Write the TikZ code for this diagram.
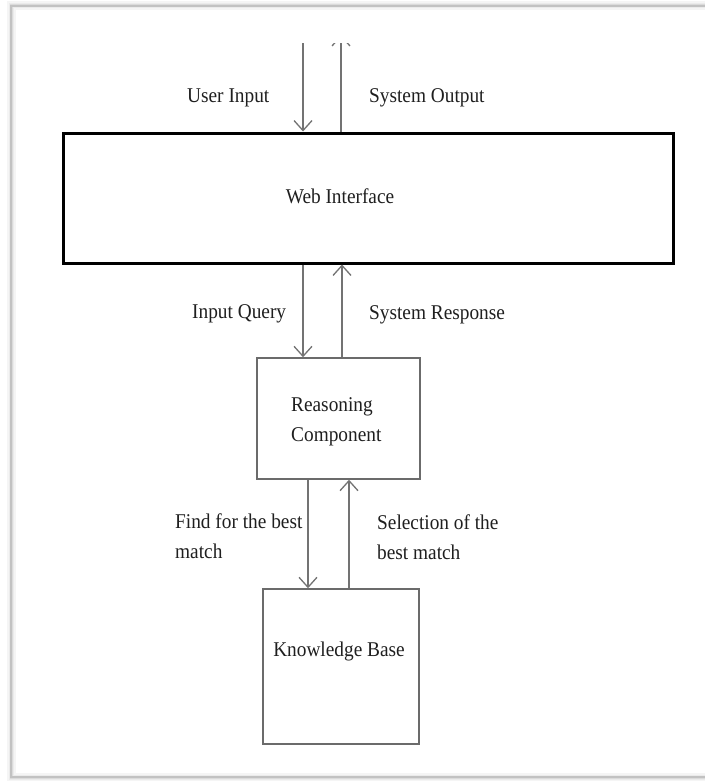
\documentclass[tikz,border=0pt]{standalone}
\usepackage{fontspec}
\usepackage{graphicx}
\setmainfont{Liberation Serif}
\usetikzlibrary{arrows.meta}

% narrow, slightly tall lettering
\newcommand{\narrow}[1]{\scalebox{0.92}[1]{#1}}

\begin{document}
\begin{tikzpicture}[x=1pt,y=-1pt,
  lbl/.style={font=\fontsize{21}{29.5}\selectfont, inner sep=0pt, text=black!88},
  thinbox/.style={draw=black!58, line width=1.5pt, inner sep=0pt, rectangle},
  thickbox/.style={draw=black, line width=3pt, inner sep=0pt, rectangle},
  flow/.style={draw=black!55, line width=1.3pt,
    -{Straight Barb[length=10pt,width=18pt,line width=1.3pt]}}]

  % page and soft frame
  \useasboundingbox (0,0) rectangle (704,781);
  \fill[white] (0,0) rectangle (704,781);
  \draw[black!4, line width=9pt] (11,6) rectangle (730,777);
  \draw[black!8, line width=5pt] (11,6) rectangle (730,777);
  \draw[black!14, line width=3pt] (11,6) rectangle (730,777);
  \draw[black!24, line width=1.4pt] (11,6) rectangle (730,777);

  % boxes
  \node[thickbox, minimum width=610pt, minimum height=130pt] (web) at (368,198) {};
  \node[thinbox, minimum width=163pt, minimum height=121pt] (rc) at (338.5,418.5) {};
  \node[thinbox, minimum width=156pt, minimum height=155pt] (kb) at (341,666.5) {};

  % box texts
  \node[lbl] (webt) at (340,196) {\narrow{Web Interface}};
  \node[lbl, align=left, anchor=west] (rct) at (291,422) {\narrow{Reasoning}\\\narrow{Component}};
  \node[lbl] (kbt) at (339,651) {\narrow{Knowledge Base}};

  % free ends of the top connectors
  \coordinate (uin) at (303,35);
  \coordinate (uout) at (341,35);

  % connectors
  \begin{scope}
    \clip (0,43.5) rectangle (704,781);
    \draw[flow] (uin) -- (uin |- web.north);
    \draw[flow] (uout |- web.north) -- (uout);
  \end{scope}

  \coordinate (q) at (303,0);
  \coordinate (r) at (342,0);
  \draw[flow] (q |- web.south) -- (q |- rc.north);
  \draw[flow] (r |- rc.north) -- (r |- web.south);

  \coordinate (f) at (308,0);
  \coordinate (s) at (349,0);
  \draw[flow] (f |- rc.south) -- (f |- kb.north);
  \draw[flow] (s |- kb.north) -- (s |- rc.south);

  % connector labels
  \node[lbl, anchor=west] (l1) at (187,98) {\narrow{User Input}};
  \node[lbl, anchor=west] (l2) at (369,98) {\narrow{System Output}};
  \node[lbl, anchor=west] (l3) at (192,314) {\narrow{Input Query}};
  \node[lbl, anchor=west] (l4) at (369,315) {\narrow{System Response}};
  \node[lbl, anchor=west, align=left] (l5) at (175,536) {\narrow{Find for the best}\\\narrow{match}};
  \node[lbl, anchor=west, align=left] (l6) at (377,537) {\narrow{Selection of the}\\\narrow{best match}};
\end{tikzpicture}
\end{document}
